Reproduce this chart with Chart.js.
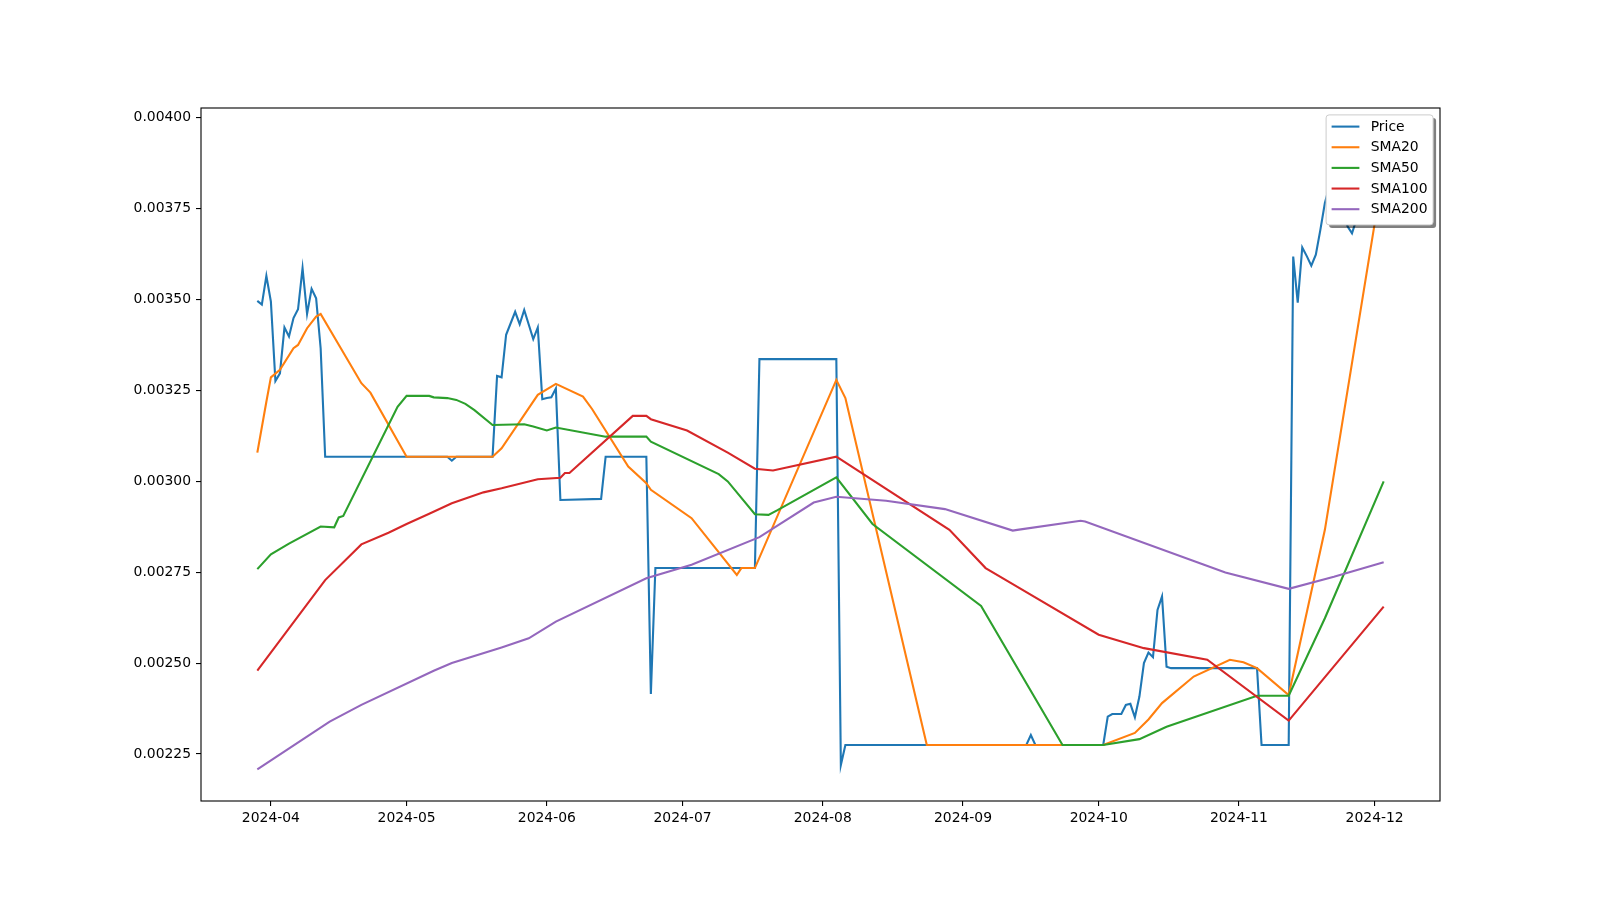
<!DOCTYPE html>
<html>
<head>
<meta charset="utf-8">
<script src="https://cdn.jsdelivr.net/npm/chart.js@4.4.1/dist/chart.umd.min.js"></script>
<style>
  html, body { margin: 0; padding: 0; background: #fff; }
</style>
</head>
<body>
<canvas id="priceChart" width="1600" height="900"></canvas>
<script>
// x values are days since 2024-03-29 (first row of the data)
const startDate = Date.UTC(2024, 2, 29);
const monthLabels = ['2024-04', '2024-05', '2024-06', '2024-07', '2024-08', '2024-09', '2024-10', '2024-11', '2024-12'];
const yTicks = [0.00225, 0.0025, 0.00275, 0.003, 0.00325, 0.0035, 0.00375, 0.004];

const priceDays = [0, 1, 2, 3, 4, 5, 6, 7, 8, 9, 10, 11, 12, 13, 14, 15, 42, 43, 44, 52,
  53, 54, 55, 57, 58, 59, 60, 61, 62, 63, 64, 65, 66, 67, 76, 77, 86, 87, 88, 110,
  111, 128, 129, 130, 170, 171, 172, 187, 188, 189, 191, 192, 193, 194, 195, 196, 197, 198, 199, 200,
  201, 202, 221, 222, 228, 229, 230, 231, 232, 233, 234, 235, 236, 237, 238, 239, 240, 241, 242, 243,
  244, 245, 246, 247, 248, 249];
const priceValues = [0.003495, 0.003485, 0.003564, 0.003493, 0.003275, 0.003296, 0.003422, 0.003397, 0.003448, 0.003472,
  0.003585, 0.003459, 0.003528, 0.003502, 0.003365, 0.003067, 0.003067, 0.003056, 0.003067, 0.003067,
  0.003289, 0.003285, 0.003402, 0.003465, 0.003431, 0.00347, 0.00343, 0.00339, 0.003422, 0.003225,
  0.003228, 0.00323, 0.003254, 0.002948, 0.002951, 0.003067, 0.003067, 0.002415, 0.002761, 0.002761,
  0.003335, 0.003335, 0.00222, 0.002275, 0.002275, 0.002302, 0.002275, 0.002275, 0.002353, 0.00236,
  0.00236, 0.002385, 0.002388, 0.002351, 0.002408, 0.0025, 0.002529, 0.002516, 0.002646, 0.002683,
  0.00249, 0.002486, 0.002486, 0.002275, 0.002275, 0.003617, 0.00349, 0.003642, 0.003618, 0.003592,
  0.003622, 0.00369, 0.003764, 0.00381, 0.00384, 0.0038, 0.00376, 0.0037, 0.003681, 0.00372,
  0.00377, 0.00383, 0.00388, 0.00391, 0.003939, 0.00392];

const sma20Days = [0, 2, 3, 5, 8, 9, 11, 13, 14, 23, 25, 33, 52, 54, 62, 66, 72, 74, 82, 86,
  87, 96, 106, 107, 110, 128, 130, 148, 187, 194, 197, 200, 207, 215, 218, 221, 228, 236, 249];
const sma20Values = [0.003078, 0.003218, 0.003285, 0.003306, 0.003365, 0.003374, 0.00342, 0.003452, 0.003459, 0.003269,
  0.003243, 0.003067, 0.003067, 0.00309, 0.003237, 0.003267, 0.003232, 0.003198, 0.00304, 0.002994,
  0.002976, 0.002898, 0.002742, 0.002761, 0.002761, 0.003278, 0.003228, 0.002275, 0.002275, 0.002308,
  0.002345, 0.00239, 0.002463, 0.002509, 0.002502, 0.002486, 0.002412, 0.002866, 0.00386];

const sma50Days = [0, 3, 7, 14, 17, 18, 19, 31, 33, 38, 39, 42, 44, 46, 48, 52, 59, 61, 64, 66,
  77, 86, 87, 102, 104, 110, 113, 115, 128, 136, 160, 178, 187, 195, 201, 221, 228, 236, 249];
const sma50Values = [0.002758, 0.002799, 0.002828, 0.002875, 0.002873, 0.0029, 0.002904, 0.003204, 0.003234, 0.003234,
  0.00323, 0.003228, 0.003223, 0.003212, 0.003195, 0.003154, 0.003156, 0.00315, 0.003139, 0.003147,
  0.003122, 0.003122, 0.003108, 0.003019, 0.002999, 0.002909, 0.002907, 0.00292, 0.00301, 0.002882,
  0.002657, 0.002275, 0.002275, 0.002291, 0.002325, 0.00241, 0.00241, 0.002623, 0.002999];

const sma100Days = [0, 15, 23, 29, 33, 38, 43, 50, 54, 62, 67, 68, 69, 83, 86, 87, 95, 104, 110, 114,
  128, 153, 161, 167, 186, 196, 210, 228, 249];
const sma100Values = [0.002479, 0.002728, 0.002826, 0.002858, 0.002882, 0.00291, 0.002939, 0.002969, 0.00298, 0.003005,
  0.003009, 0.003022, 0.003022, 0.003179, 0.003179, 0.00317, 0.003139, 0.003078, 0.003034, 0.003029,
  0.003067, 0.002866, 0.002761, 0.002717, 0.002578, 0.002541, 0.002509, 0.002342, 0.002655];

const sma200Days = [0, 16, 23, 39, 43, 54, 60, 66, 86, 96, 111, 123, 128, 139, 152, 167, 168, 182, 183, 214,
  228, 238, 249];
const sma200Values = [0.002208, 0.002339, 0.002385, 0.002479, 0.0025, 0.002543, 0.002568, 0.002614, 0.002733, 0.00277,
  0.002846, 0.002941, 0.002957, 0.002946, 0.002923, 0.002864, 0.002866, 0.002891, 0.002889, 0.002749,
  0.002704, 0.002737, 0.002777];

const monthDays = monthLabels.map(m => {
  const [y, mo] = m.split('-').map(Number);
  return (Date.UTC(y, mo - 1, 1) - startDate) / 86400000;
});

function toPoints(days, values) {
  return days.map((d, i) => ({ x: d, y: values[i] }));
}

const tickFont = { family: '"DejaVu Sans"', size: 13.9 };

// matplotlib-style frame round the axes
const framePlugin = {
  id: 'frame',
  afterDatasetsDraw(chart) {
    const a = chart.chartArea;
    const ctx = chart.ctx;
    ctx.save();
    ctx.strokeStyle = '#000';
    ctx.lineWidth = 1.1;
    ctx.strokeRect(a.left, a.top, a.right - a.left, a.bottom - a.top);
    ctx.restore();
  }
};

// legend box in the upper right, with shadow
const legendPlugin = {
  id: 'mplLegend',
  afterDraw(chart) {
    const ctx = chart.ctx;
    const a = chart.chartArea;
    const w = 107, h = 110;
    const x = a.right - 6.9 - w, y = a.top + 6.9;
    ctx.save();
    ctx.fillStyle = 'rgba(0,0,0,0.5)';
    ctx.beginPath();
    ctx.roundRect(x + 3, y + 3, w, h, 3);
    ctx.fill();
    ctx.fillStyle = '#fff';
    ctx.strokeStyle = '#cccccc';
    ctx.lineWidth = 1;
    ctx.beginPath();
    ctx.roundRect(x, y, w, h, 3);
    ctx.fill();
    ctx.stroke();
    ctx.font = '13.9px "DejaVu Sans"';
    ctx.textBaseline = 'middle';
    chart.data.datasets.forEach((ds, i) => {
      const cy = y + 11.7 + i * 20.65;
      ctx.strokeStyle = ds.borderColor;
      ctx.lineWidth = 2.1;
      ctx.beginPath();
      ctx.moveTo(x + 5.5, cy);
      ctx.lineTo(x + 33.3, cy);
      ctx.stroke();
      ctx.fillStyle = '#000';
      ctx.fillText(ds.label, x + 44.6, cy + 0.5);
    });
    ctx.restore();
  }
};

const datasets = [
  { label: 'Price', data: toPoints(priceDays, priceValues), borderColor: '#1f77b4', order: 5 },
  { label: 'SMA20', data: toPoints(sma20Days, sma20Values), borderColor: '#ff7f0e', order: 4 },
  { label: 'SMA50', data: toPoints(sma50Days, sma50Values), borderColor: '#2ca02c', order: 3 },
  { label: 'SMA100', data: toPoints(sma100Days, sma100Values), borderColor: '#d62728', order: 2 },
  { label: 'SMA200', data: toPoints(sma200Days, sma200Values), borderColor: '#9467bd', order: 1 }
].map(ds => Object.assign({ borderWidth: 2.1, pointRadius: 0, fill: false, tension: 0 }, ds));

new Chart(document.getElementById('priceChart').getContext('2d'), {
  type: 'line',
  data: { datasets: datasets },
  options: {
    responsive: false,
    animation: false,
    devicePixelRatio: 1,
    layout: { padding: { top: 108, right: 160, left: 0, bottom: 0 } },
    plugins: { legend: { display: false }, tooltip: { enabled: false } },
    scales: {
      x: {
        type: 'linear',
        min: -12.45,
        max: 261.45,
        afterBuildTicks: scale => { scale.ticks = monthDays.map(v => ({ value: v })); },
        afterFit: scale => { scale.height = 99; },
        border: { display: false },
        grid: { drawOnChartArea: false, color: '#000', lineWidth: 1.1, tickLength: 5 },
        ticks: {
          color: '#000', font: tickFont, padding: 4, maxRotation: 0, autoSkip: false,
          callback: v => monthLabels[monthDays.indexOf(v)]
        }
      },
      y: {
        min: 0.002121,
        max: 0.004025,
        afterBuildTicks: scale => { scale.ticks = yTicks.map(v => ({ value: v })); },
        afterFit: scale => { scale.width = 201; },
        border: { display: false },
        grid: { drawOnChartArea: false, color: '#000', lineWidth: 1.1, tickLength: 5 },
        ticks: { color: '#000', font: tickFont, padding: 5, callback: v => v.toFixed(5) }
      }
    }
  },
  plugins: [framePlugin, legendPlugin]
});
</script>
</body>
</html>
